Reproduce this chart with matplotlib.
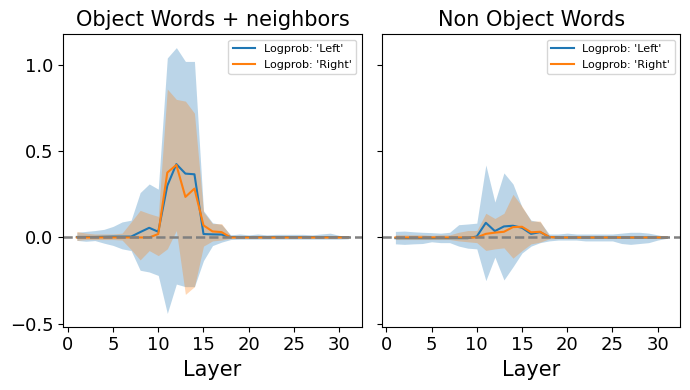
import numpy as np
import matplotlib
matplotlib.use("Agg")
import matplotlib.pyplot as plt
from matplotlib.ticker import MultipleLocator

layers = list(range(1, 32))

# Panel 1: Object Words + neighbors
obj_left_mean = [0.003, 0.003, 0.003, 0.004, 0.005, 0.005, 0.005, 0.031, 0.056, 0.033,
                 0.30, 0.425, 0.37, 0.366, 0.02, 0.018, 0.017, 0.003, 0.002, 0.002,
                 0.002, 0.002, 0.002, 0.002, 0.002, 0.002, 0.002, 0.002, 0.002, 0.002, 0.002]
obj_left_hi = [0.03, 0.035, 0.04, 0.047, 0.064, 0.09, 0.10, 0.26, 0.31, 0.28,
               1.04, 1.10, 1.02, 1.02, 0.155, 0.085, 0.075, 0.015, 0.02, 0.015,
               0.02, 0.015, 0.018, 0.018, 0.018, 0.018, 0.015, 0.02, 0.025, 0.012, 0.008]
obj_left_lo = [-0.017, -0.022, -0.018, -0.033, -0.046, -0.066, -0.076, -0.19, -0.2, -0.22,
               -0.44, -0.27, -0.285, -0.285, -0.134, -0.047, -0.027, -0.012, -0.01, -0.01,
               -0.01, -0.01, -0.01, -0.01, -0.01, -0.01, -0.01, -0.01, -0.01, -0.01, -0.008]
obj_right_mean = [0.0, 0.0, 0.0, 0.0, 0.0, 0.0, 0.0, 0.0, 0.0, 0.02,
                  0.376, 0.42, 0.235, 0.283, 0.07, 0.035, 0.031, 0.0, 0.0, 0.0,
                  0.0, 0.0, 0.0, 0.0, 0.0, 0.0, 0.0, 0.0, 0.0, 0.0, 0.0]
obj_right_hi = [0.035, 0.025, 0.02, 0.02, 0.02, 0.025, 0.09, 0.157, 0.138, 0.122,
                0.86, 0.80, 0.79, 0.72, 0.147, 0.08, 0.08, 0.01, 0.005, 0.005,
                0.005, 0.005, 0.005, 0.005, 0.005, 0.005, 0.005, 0.005, 0.005, 0.005, 0.005]
obj_right_lo = [-0.017, -0.012, -0.012, -0.012, -0.012, -0.015, -0.07, -0.13, -0.076, -0.105,
                -0.066, 0.04, -0.33, -0.285, -0.05, -0.02, -0.015, -0.005, -0.005, -0.005,
                -0.005, -0.005, -0.005, -0.005, -0.005, -0.005, -0.005, -0.005, -0.005, -0.005, -0.005]

# Panel 2: Non Object Words
non_left_mean = [-0.004, -0.004, -0.004, -0.004, -0.004, -0.004, -0.004, -0.004, -0.004, 0.006,
                 0.085, 0.037, 0.064, 0.068, 0.056, 0.021, 0.031, 0.003, 0.0, 0.0,
                 0.0, 0.0, 0.0, 0.0, 0.0, 0.0, 0.0, 0.0, 0.0, 0.0, 0.0]
non_left_hi = [0.035, 0.037, 0.033, 0.03, 0.028, 0.025, 0.03, 0.074, 0.078, 0.083,
               0.42, 0.205, 0.374, 0.31, 0.176, 0.1, 0.09, 0.02, 0.02, 0.025,
               0.02, 0.02, 0.02, 0.02, 0.02, 0.025, 0.03, 0.03, 0.025, 0.015, 0.005]
non_left_lo = [-0.037, -0.04, -0.037, -0.035, -0.025, -0.03, -0.03, -0.05, -0.062, -0.066,
               -0.25, -0.114, -0.246, -0.17, -0.09, -0.05, -0.03, -0.02, -0.015, -0.015,
               -0.015, -0.02, -0.02, -0.02, -0.02, -0.035, -0.04, -0.035, -0.03, -0.015, -0.005]
non_right_mean = [0.0, 0.0, 0.0, 0.0, 0.0, 0.0, 0.0, 0.0, 0.0, 0.0,
                  0.021, 0.028, 0.033, 0.06, 0.062, 0.03, 0.033, 0.003, 0.0, 0.0,
                  0.0, 0.0, 0.0, 0.0, 0.0, 0.0, 0.0, 0.0, 0.0, 0.0, 0.0]
non_right_hi = [0.015, 0.015, 0.015, 0.015, 0.012, 0.015, 0.015, 0.03, 0.04, 0.04,
                0.14, 0.11, 0.14, 0.25, 0.18, 0.095, 0.095, 0.01, 0.008, 0.008,
                0.008, 0.008, 0.008, 0.008, 0.008, 0.008, 0.008, 0.008, 0.008, 0.008, 0.008]
non_right_lo = [-0.012, -0.012, -0.012, -0.012, -0.012, -0.012, -0.012, -0.02, -0.025, -0.03,
                -0.075, -0.066, -0.06, -0.12, -0.076, -0.037, -0.027, -0.008, -0.006, -0.006,
                -0.006, -0.006, -0.006, -0.006, -0.006, -0.006, -0.006, -0.006, -0.006, -0.006, -0.006]

titles = ["Object Words + neighbors", "Non Object Words"]
series_labels = ["Logprob: 'Left'", "Logprob: 'Right'"]

panels = [
    (obj_left_mean, obj_left_lo, obj_left_hi, obj_right_mean, obj_right_lo, obj_right_hi),
    (non_left_mean, non_left_lo, non_left_hi, non_right_mean, non_right_lo, non_right_hi),
]

fig, axes = plt.subplots(1, 2, figsize=(6.9, 3.9), dpi=100, sharey=True)
fig.subplots_adjust(left=0.0917, right=0.986, bottom=0.1623, top=0.912, wspace=0.067)

for ax, title, (lm, llo, lhi, rm, rlo, rhi) in zip(axes, titles, panels):
    ax.fill_between(layers, llo, lhi, color="C0", alpha=0.3, linewidth=0)
    ax.fill_between(layers, rlo, rhi, color="C1", alpha=0.3, linewidth=0)
    ax.plot(layers, lm, color="C0", lw=1.5, label=series_labels[0])
    ax.plot(layers, rm, color="C1", lw=1.5, label=series_labels[1])
    ax.axhline(0, color="gray", linestyle="--", lw=1.8)
    ax.set_title(title, fontsize=15)
    ax.set_xlabel("Layer", fontsize=15)
    ax.tick_params(labelsize=13)
    ax.xaxis.set_major_locator(MultipleLocator(5))
    ax.yaxis.set_major_locator(MultipleLocator(0.5))
    ax.legend(loc="upper right", fontsize=8)

fig.savefig("out.png", dpi=100)
